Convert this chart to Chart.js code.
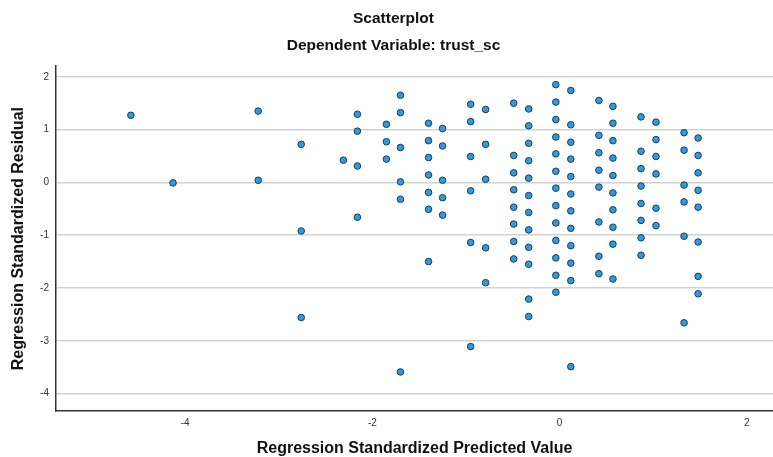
<!DOCTYPE html>
<html>
<head>
<meta charset="utf-8">
<script src="https://cdn.jsdelivr.net/npm/chart.js@4.4.1/dist/chart.umd.min.js"></script>
<style>
  html, body { margin: 0; padding: 0; background: #fff; overflow: hidden; }
  canvas { display: block; }
</style>
</head>
<body>
<canvas id="scatter" width="773" height="457"></canvas>
<script>
// predicted values (columns) and the residuals found in each column
const predictedCols = [-4.58, -4.13, -3.22, -2.76, -2.31, -2.16, -1.85, -1.70, -1.40, -1.25,
    -0.95, -0.79, -0.49, -0.33, -0.04, 0.12, 0.42, 0.57, 0.87, 1.03, 1.33, 1.48];
const residualsByCol = [
    [1.27],
    [-0.01],
    [1.35, 0.04],
    [0.72, -0.92, -2.56],
    [0.42],
    [1.29, 0.97, 0.31, -0.66],
    [1.10, 0.77, 0.44],
    [1.65, 1.32, 0.66, 0.01, -0.32, -3.59],
    [1.12, 0.79, 0.47, 0.14, -0.19, -0.51, -1.50],
    [1.02, 0.69, 0.04, -0.29, -0.62],
    [1.48, 1.15, 0.49, -0.16, -1.14, -3.11],
    [1.38, 0.72, 0.06, -1.24, -1.90],
    [1.50, 0.51, 0.18, -0.14, -0.47, -0.79, -1.12, -1.45],
    [1.39, 1.07, 0.74, 0.41, 0.08, -0.25, -0.57, -0.90, -1.23, -1.55, -2.21, -2.54],
    [1.85, 1.52, 1.19, 0.86, 0.54, 0.21, -0.11, -0.44, -0.77, -1.10, -1.43, -1.76, -2.08],
    [1.74, 1.09, 0.76, 0.44, 0.11, -0.22, -0.54, -0.87, -1.20, -1.53, -1.86, -3.49],
    [1.55, 0.89, 0.56, 0.23, -0.09, -0.75, -1.40, -1.73],
    [1.44, 1.12, 0.79, 0.46, 0.13, -0.20, -0.52, -0.85, -1.17, -1.83],
    [1.24, 0.59, 0.26, -0.07, -0.40, -0.72, -1.05, -1.38],
    [1.14, 0.81, 0.49, 0.16, -0.49, -0.82],
    [0.94, 0.61, -0.05, -0.37, -1.02, -2.66],
    [0.84, 0.51, 0.18, -0.15, -0.47, -1.13, -1.78, -2.11]
];
const xTicks = [-4, -2, 0, 2];
const yTicks = [-4, -3, -2, -1, 0, 1, 2];

const points = [];
predictedCols.forEach((px, i) => {
    residualsByCol[i].forEach(r => points.push({ x: px, y: r }));
});

const fontFamily = "'Liberation Sans', Arial, sans-serif";

new Chart(document.getElementById('scatter'), {
    type: 'scatter',
    data: {
        datasets: [{
            label: 'Residuals',
            data: points,
            backgroundColor: '#2e9be0',
            borderColor: '#1f3b57',
            borderWidth: 1,
            pointRadius: 3.3,
            pointHoverRadius: 3.3
        }]
    },
    options: {
        responsive: false,
        animation: false,
        devicePixelRatio: 1,
        layout: { autoPadding: false, padding: { left: 14, right: 0, top: 0, bottom: 0 } },
        plugins: {
            legend: { display: false },
            tooltip: { enabled: false },
            title: {
                display: true,
                text: 'Scatterplot',
                color: '#111',
                font: { family: fontFamily, size: 15.5, weight: 'bold' },
                padding: { top: 9, bottom: 0 }
            },
            subtitle: {
                display: true,
                text: 'Dependent Variable: trust_sc',
                color: '#111',
                font: { family: fontFamily, size: 15.5, weight: 'bold' },
                padding: { top: 9, bottom: 11 }
            }
        },
        scales: {
            x: {
                type: 'linear',
                min: -5.38,
                max: 2.28,
                afterBuildTicks: axis => { axis.ticks = xTicks.map(v => ({ value: v })); },
                afterFit: axis => {
                    axis.height = 46;
                    axis.paddingLeft = 0;
                    axis.paddingRight = 0;
                },
                ticks: {
                    color: '#333',
                    font: { family: fontFamily, size: 10 },
                    padding: 6,
                    maxRotation: 0
                },
                grid: { display: false, drawTicks: false },
                border: { display: true, color: '#333', width: 1.5 },
                title: {
                    display: true,
                    text: 'Regression Standardized Predicted Value',
                    color: '#111',
                    font: { family: fontFamily, size: 16, weight: 'bold' },
                    padding: { top: 0, bottom: -1 }
                }
            },
            y: {
                type: 'linear',
                min: -4.33,
                max: 2.2,
                afterBuildTicks: axis => { axis.ticks = yTicks.map(v => ({ value: v })); },
                afterFit: axis => { axis.width = 42; },
                ticks: {
                    color: '#333',
                    font: { family: fontFamily, size: 10 },
                    padding: 7
                },
                grid: { color: '#d2d2d2', lineWidth: 1.5, drawTicks: false },
                border: { display: true, color: '#333', width: 1.5 },
                title: {
                    display: true,
                    text: 'Regression Standardized Residual',
                    color: '#111',
                    font: { family: fontFamily, size: 16, weight: 'bold' },
                    padding: { top: -5, bottom: 0 }
                }
            }
        }
    }
});
</script>
</body>
</html>
